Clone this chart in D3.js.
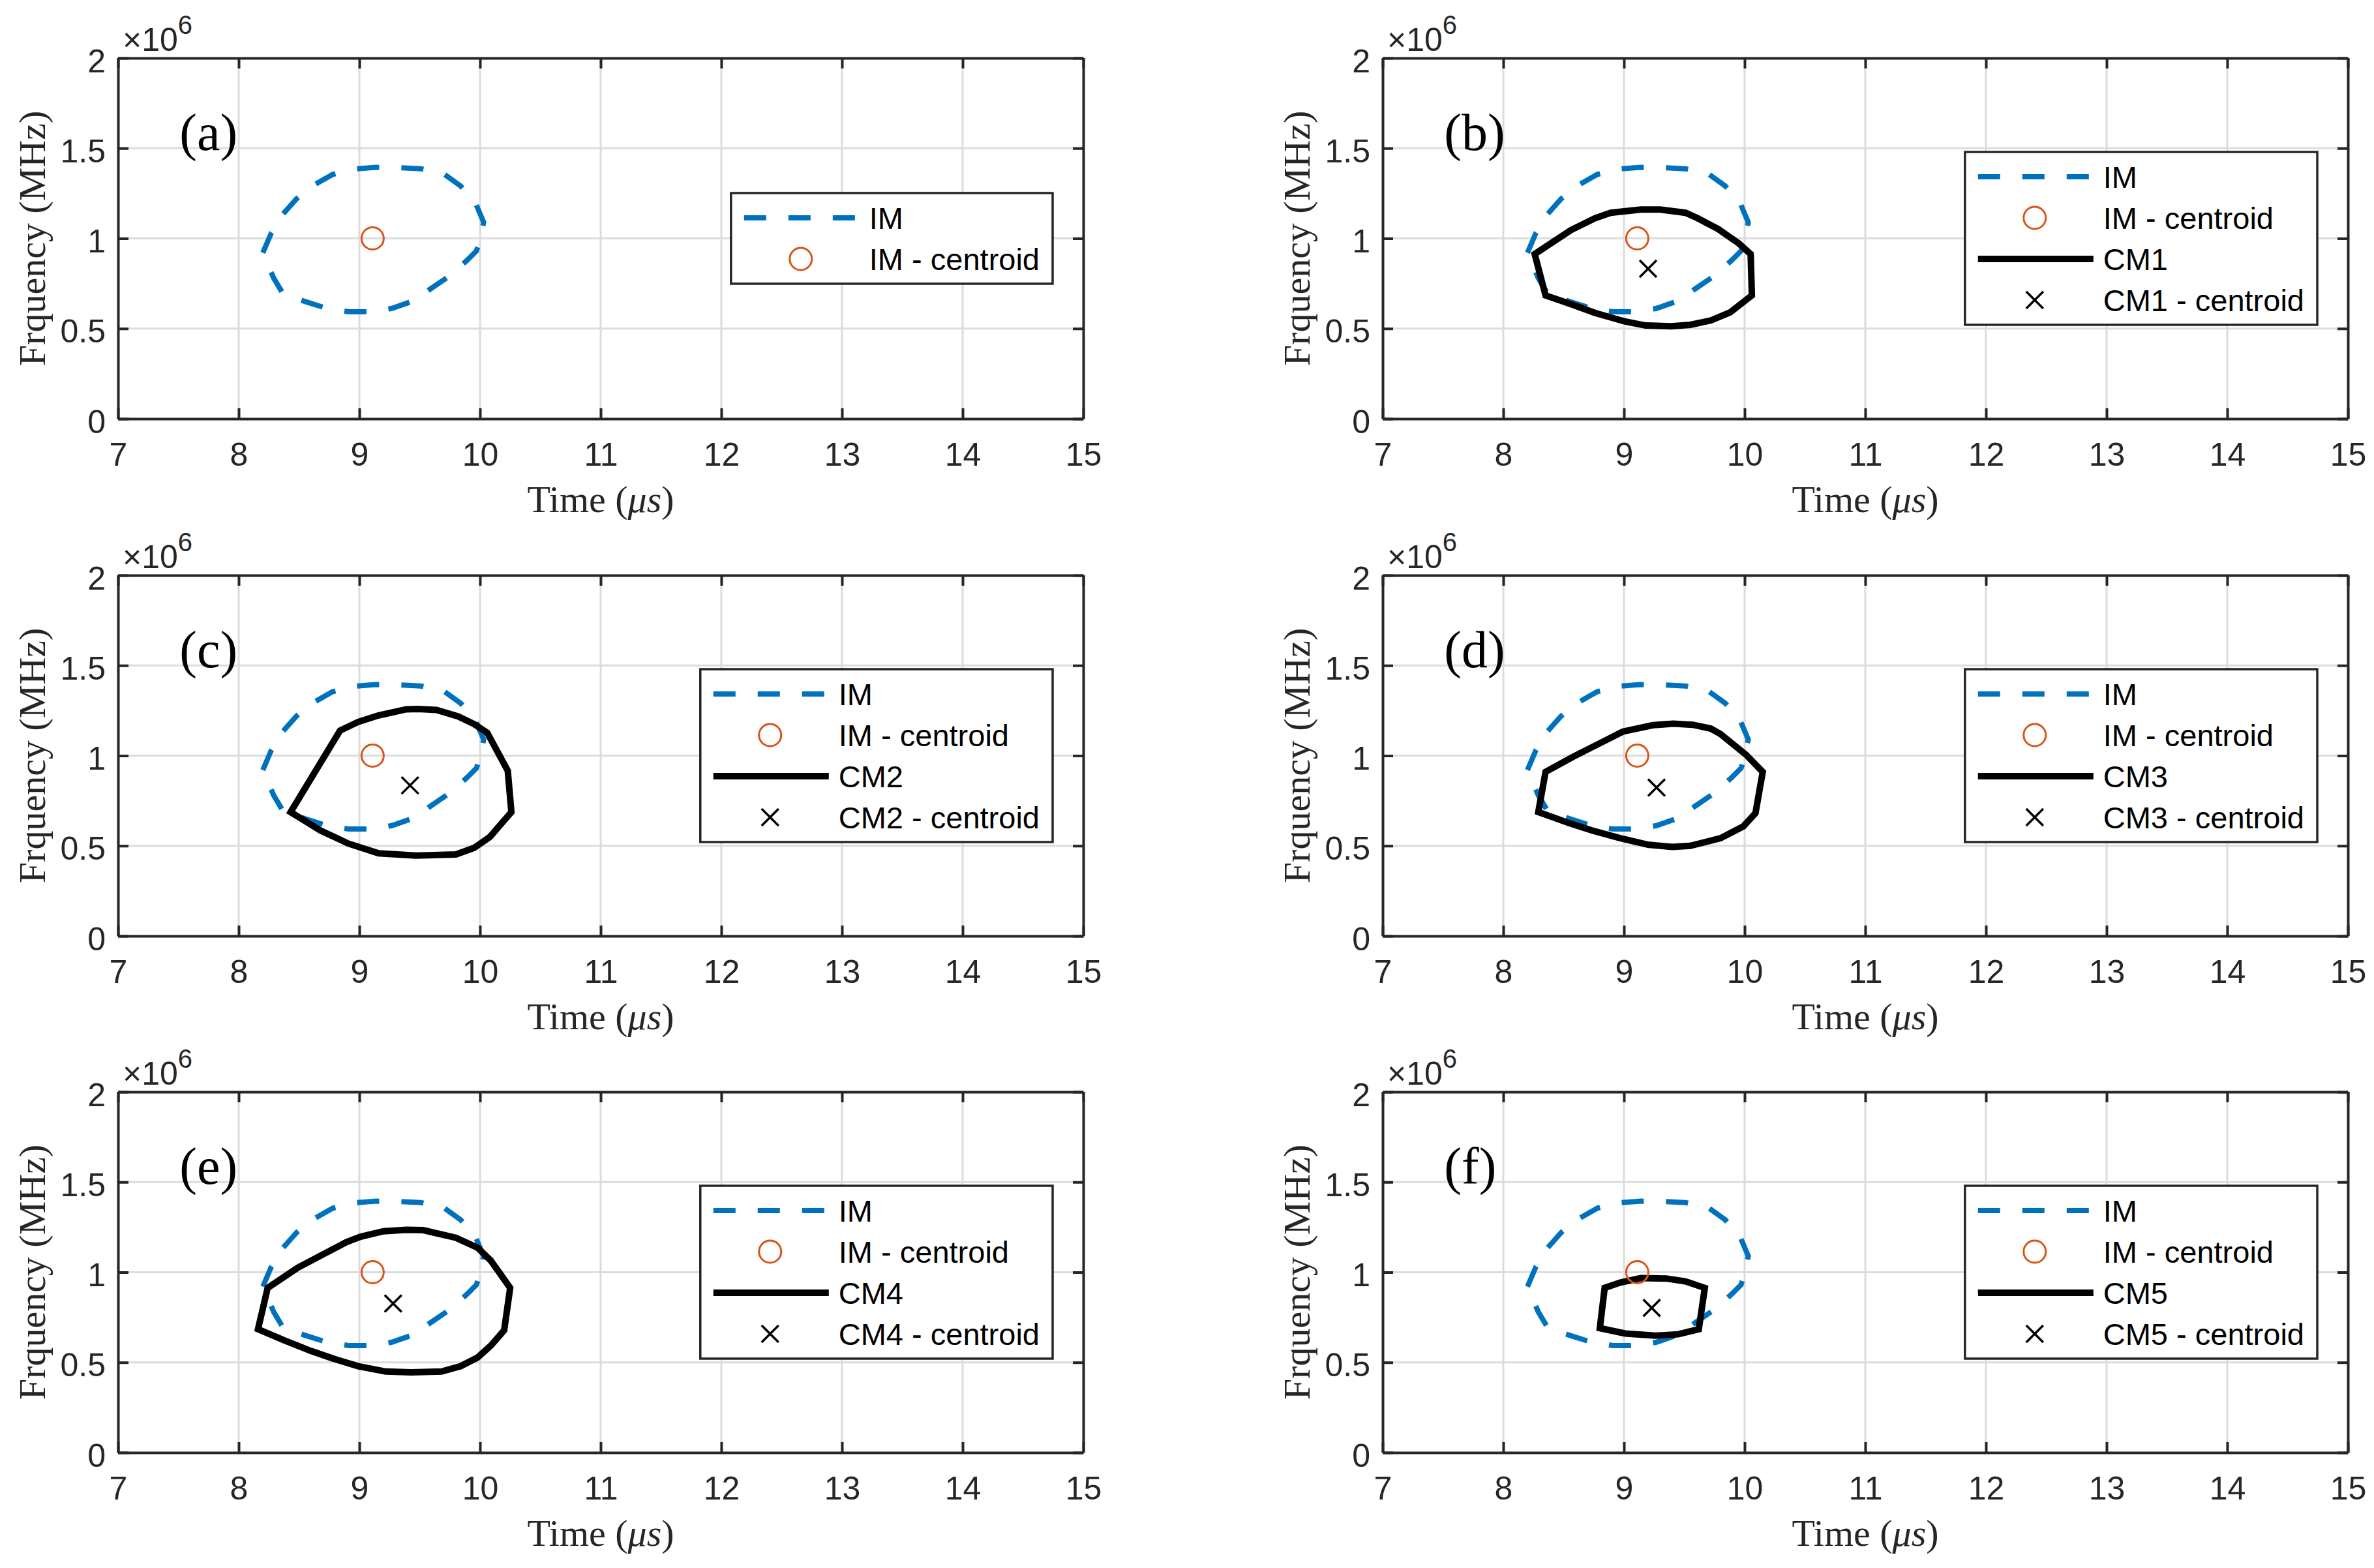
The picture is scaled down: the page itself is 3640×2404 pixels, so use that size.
<!DOCTYPE html>
<html>
<head>
<meta charset="utf-8">
<script src="https://cdn.jsdelivr.net/npm/d3@7"></script>
<style>
  body { margin: 0; background: #fff; }
</style>
</head>
<body>
<svg id="fig" width="3640" height="2404"></svg>
<script>
// axis ticks
const timeTicks = [7, 8, 9, 10, 11, 12, 13, 14, 15];
const freqTicks = [0, 0.5, 1, 1.5, 2];
const freqTickLabels = ["0", "0.5", "1", "1.5", "2"];

// initial mask contour, same in every panel (time us, freq x1e6)
const imContour = [
  [8.20, 0.92], [8.27, 1.03], [8.36, 1.13], [8.48, 1.22], [8.62, 1.295],
  [8.78, 1.355], [8.96, 1.385], [9.14, 1.394], [9.33, 1.392], [9.51, 1.386],
  [9.70, 1.358], [9.84, 1.29], [9.96, 1.20], [10.03, 1.09], [10.00, 0.99],
  [9.97, 0.93], [9.89, 0.877], [9.75, 0.793], [9.59, 0.72], [9.45, 0.654],
  [9.27, 0.612], [9.10, 0.593], [8.91, 0.593], [8.73, 0.612], [8.56, 0.648],
  [8.37, 0.69], [8.29, 0.78]
];
const imCentroid = [9.11, 1.00];

// candidate masks
const cm1 = [
  [8.26, 0.913], [8.35, 0.684], [8.56, 0.636], [8.76, 0.587], [9.01, 0.539],
  [9.18, 0.517], [9.39, 0.513], [9.55, 0.521], [9.72, 0.545], [9.88, 0.590],
  [10.06, 0.684], [10.05, 0.913], [9.95, 0.973], [9.78, 1.052], [9.61, 1.112],
  [9.51, 1.142], [9.30, 1.160], [9.14, 1.160], [8.89, 1.142], [8.76, 1.112],
  [8.56, 1.046]
];
const cm2 = [
  [8.43, 0.687], [8.84, 1.139], [8.99, 1.187], [9.16, 1.223], [9.39, 1.257],
  [9.49, 1.259], [9.64, 1.253], [9.82, 1.217], [9.95, 1.175], [10.06, 1.127],
  [10.23, 0.916], [10.26, 0.687], [10.08, 0.548], [9.95, 0.488], [9.80, 0.452],
  [9.47, 0.446], [9.16, 0.458], [8.91, 0.512], [8.68, 0.584]
];
const cm3 = [
  [8.35, 0.910], [8.29, 0.687], [8.54, 0.627], [8.74, 0.584], [8.97, 0.542],
  [9.20, 0.506], [9.40, 0.494], [9.55, 0.500], [9.80, 0.542], [9.99, 0.608],
  [10.09, 0.681], [10.15, 0.910], [10.01, 1.006], [9.80, 1.120], [9.72, 1.150],
  [9.57, 1.171], [9.41, 1.177], [9.24, 1.169], [8.99, 1.133], [8.81, 1.072],
  [8.58, 0.994]
];
const cm4 = [
  [8.24, 0.913], [8.16, 0.684], [8.37, 0.624], [8.60, 0.563], [8.81, 0.515],
  [8.99, 0.479], [9.22, 0.449], [9.43, 0.445], [9.68, 0.449], [9.84, 0.479],
  [9.98, 0.527], [10.09, 0.593], [10.20, 0.678], [10.25, 0.913], [10.09, 1.064],
  [9.98, 1.136], [9.80, 1.191], [9.53, 1.233], [9.39, 1.235], [9.20, 1.227],
  [9.01, 1.197], [8.89, 1.166], [8.72, 1.106], [8.49, 1.025]
];
const cm5 = [
  [8.84, 0.913], [8.80, 0.690], [9.01, 0.660], [9.26, 0.648], [9.45, 0.656],
  [9.62, 0.684], [9.67, 0.913], [9.51, 0.949], [9.35, 0.965], [9.14, 0.967],
  [8.97, 0.943]
];
const cmContours = [null, cm1, cm2, cm3, cm4, cm5];
const cmCentroids = [null, [9.20, 0.832], [9.42, 0.835], [9.27, 0.823], [9.28, 0.826], [9.23, 0.802]];
const cmNames = [null, "CM1", "CM2", "CM3", "CM4", "CM5"];
const panelLabels = ["(a)", "(b)", "(c)", "(d)", "(e)", "(f)"];

const blue = "#0072BD", orange = "#D95319", axisCol = "#262626";
const sans = "'Liberation Sans', Arial, sans-serif";
const serif = "'Liberation Serif', 'Times New Roman', serif";

const svg = d3.select("#fig");
const colX = [181, 2120], rowY = [89, 882, 1674];
const w = 1480, h = 553;

const x = d3.scaleLinear().domain([7, 15]).range([0, w]);
const y = d3.scaleLinear().domain([0, 2]).range([h, 0]);
const contour = d3.line().x(d => x(d[0])).y(d => y(d[1])).curve(d3.curveLinearClosed);

function drawCross(g, cx, cy, s) {
  g.append("path")
    .attr("d", `M${cx - s},${cy - s}L${cx + s},${cy + s}M${cx - s},${cy + s}L${cx + s},${cy - s}`)
    .attr("stroke", "#000").attr("stroke-width", 3.5).attr("fill", "none");
}

function drawPanel(i) {
  const g = svg.append("g")
    .attr("transform", `translate(${colX[i % 2]},${rowY[Math.floor(i / 2)]})`);

  // grid
  g.append("g").selectAll("line").data(timeTicks.slice(1, -1)).enter().append("line")
    .attr("x1", d => x(d)).attr("x2", d => x(d)).attr("y1", 0).attr("y2", h)
    .attr("stroke", "#dcdcdc").attr("stroke-width", 3);
  g.append("g").selectAll("line").data(freqTicks.slice(1, -1)).enter().append("line")
    .attr("y1", d => y(d)).attr("y2", d => y(d)).attr("x1", 0).attr("x2", w)
    .attr("stroke", "#dcdcdc").attr("stroke-width", 3);

  // IM contour + centroid
  g.append("path").attr("d", contour(imContour))
    .attr("fill", "none").attr("stroke", blue).attr("stroke-width", 8)
    .attr("stroke-dasharray", "34,34");

  if (cmContours[i]) {
    g.append("path").attr("d", contour(cmContours[i]))
      .attr("fill", "none").attr("stroke", "#000").attr("stroke-width", 10)
      .attr("stroke-linejoin", "miter");
  }
  g.append("circle").attr("cx", x(imCentroid[0])).attr("cy", y(imCentroid[1])).attr("r", 17)
    .attr("fill", "none").attr("stroke", orange).attr("stroke-width", 3);
  if (cmCentroids[i]) drawCross(g, x(cmCentroids[i][0]), y(cmCentroids[i][1]), 13);

  // axes (box with inward ticks)
  g.append("g").attr("transform", `translate(0,${h})`)
    .call(d3.axisBottom(x).tickValues(timeTicks).tickSizeInner(-16).tickSizeOuter(0).tickPadding(36));
  const left = g.append("g")
    .call(d3.axisLeft(y).tickValues(freqTicks).tickFormat((d, k) => freqTickLabels[k])
      .tickSizeInner(-16).tickSizeOuter(0).tickPadding(19));
  g.append("g").call(d3.axisTop(x).tickValues(timeTicks).tickFormat("").tickSizeInner(-16).tickSizeOuter(0));
  g.append("g").attr("transform", `translate(${w},0)`)
    .call(d3.axisRight(y).tickValues(freqTicks).tickFormat("").tickSizeInner(-16).tickSizeOuter(0));
  g.selectAll(".domain").attr("stroke", axisCol).attr("stroke-width", 4);
  g.selectAll(".tick line").attr("stroke", axisCol).attr("stroke-width", 4);
  g.selectAll(".tick text").attr("font-family", sans).attr("font-size", 50).attr("fill", axisCol);
  left.selectAll(".tick text").attr("dy", "0.42em");

  // exponent label
  const ex = g.append("text").attr("x", 7).attr("y", -11)
    .attr("font-family", sans).attr("font-size", 50).attr("fill", axisCol);
  ex.append("tspan").text("\u00d710");
  ex.append("tspan").attr("font-size", 40).attr("dy", -26).text("6");

  // axis labels
  const xl = g.append("text").attr("x", w / 2).attr("y", h + 143)
    .attr("text-anchor", "middle").attr("font-family", serif).attr("font-size", 58).attr("fill", axisCol);
  xl.append("tspan").text("Time (");
  xl.append("tspan").attr("font-style", "italic").text("\u03bcs");
  xl.append("tspan").text(")");
  g.append("text").attr("transform", `translate(-112,${h / 2}) rotate(-90)`)
    .attr("text-anchor", "middle").attr("font-family", serif).attr("font-size", 58)
    .attr("fill", axisCol).text("Frquency (MHz)");

  // panel tag
  g.append("text").attr("x", x(7.51)).attr("y", y(1.49))
    .attr("font-family", serif).attr("font-size", 80).attr("fill", "#000").text(panelLabels[i]);

  // legend, location east
  const entries = [{ type: "dash", label: "IM" }, { type: "circle", label: "IM - centroid" }];
  if (cmNames[i]) {
    entries.push({ type: "solid", label: cmNames[i] });
    entries.push({ type: "cross", label: cmNames[i] + " - centroid" });
  }
  const rowH = 63;
  const lh = 76 + (entries.length - 1) * rowH;
  const lg = g.append("g");
  const box = lg.append("rect").attr("fill", "#fff").attr("stroke", axisCol).attr("stroke-width", 3.5);
  let maxW = 0;
  entries.forEach((e, k) => {
    const cy = 38 + k * rowH;
    const t = lg.append("text").attr("x", 212).attr("y", cy + 17)
      .attr("font-family", sans).attr("font-size", 47).attr("fill", "#000").text(e.label);
    maxW = Math.max(maxW, t.node().getComputedTextLength());
    if (e.type === "dash") {
      lg.append("line").attr("x1", 20).attr("x2", 190).attr("y1", cy).attr("y2", cy)
        .attr("stroke", blue).attr("stroke-width", 8).attr("stroke-dasharray", "34,34");
    } else if (e.type === "solid") {
      lg.append("line").attr("x1", 20).attr("x2", 197).attr("y1", cy).attr("y2", cy)
        .attr("stroke", "#000").attr("stroke-width", 10);
    } else if (e.type === "circle") {
      lg.append("circle").attr("cx", 107).attr("cy", cy).attr("r", 17)
        .attr("fill", "none").attr("stroke", orange).attr("stroke-width", 3);
    } else {
      drawCross(lg, 107, cy, 13);
    }
  });
  const lw = 212 + maxW + 20;
  box.attr("width", lw).attr("height", lh);
  lg.attr("transform", `translate(${w - 47 - lw},${(h - lh) / 2})`);
}

for (let i = 0; i < 6; i++) drawPanel(i);
</script>
</body>
</html>
